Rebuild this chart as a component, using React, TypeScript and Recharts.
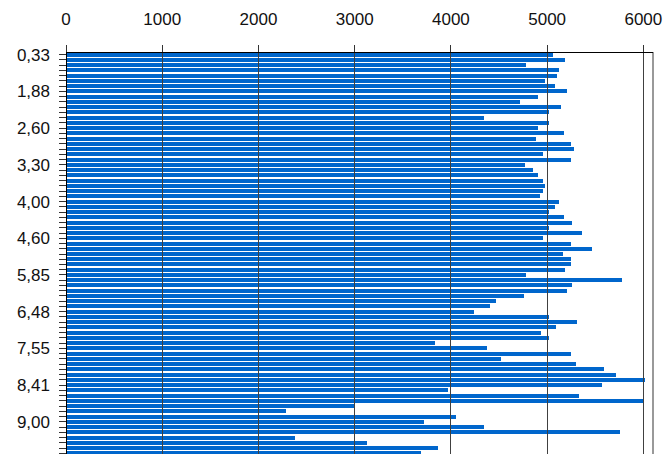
import React from "react";
import {
  BarChart,
  Bar,
  XAxis,
  YAxis,
  ReferenceLine,
} from "recharts";

// one bar per bin, top to bottom
const binValues = [
  5065, 5190, 4785, 5127, 5106, 4975, 5086, 5211, 4910, 4723, 5148, 5024, 4339,
  5024, 4900, 5180, 4880, 5244, 5275, 4960, 5244, 4775, 4848, 4900, 4960, 4975,
  4960, 4930, 5127, 5086, 5024, 5180, 5254, 5024, 5367, 4960, 5244, 5471, 5160,
  5244, 5244, 5190, 4785, 5783, 5254, 5211, 4755, 4470, 4411, 4244, 5024, 5315,
  5087, 4932, 5024, 3839, 4380, 5253, 4525, 5305, 5586, 5720, 6022, 5565, 3974,
  5336, 6002, 3006, 2290, 4058, 3725, 4339, 5752, 2383, 3133, 3870, 3684,
];

// labels printed on every 7th bin
const binLabels = [
  "0,33", "1,88", "2,60", "3,30", "4,00", "4,60", "5,85", "6,48", "7,55", "8,41", "9,00",
];
const labelEvery = 7;

const xTicks = [0, 1000, 2000, 3000, 4000, 5000, 6000];
const xMax = 6100;

const data = binValues.map((value, i) => ({ bin: i, value }));

const FONT = "'Liberation Sans', Arial, sans-serif";

export default function App() {
  return (
    <div style={{ position: "absolute", left: 0, top: 0 }}>
      <BarChart
        width={668}
        height={460}
        data={data}
        layout="vertical"
        margin={{ top: 22, right: 15, bottom: 4, left: 0 }}
        barCategoryGap="12%"
        style={{ shapeRendering: "crispEdges", fontFamily: FONT }}
      >
        <XAxis
          type="number"
          orientation="top"
          domain={[0, xMax]}
          ticks={xTicks}
          height={30}
          tickSize={7}
          tickMargin={20}
          axisLine={{ stroke: "#000" }}
          tickLine={{ stroke: "#333" }}
          tick={{ fill: "#111", fontSize: 17, fontFamily: FONT }}
        />
        <YAxis
          type="category"
          dataKey="bin"
          width={66}
          interval={0}
          tickSize={7}
          tickMargin={9}
          axisLine={{ stroke: "#000" }}
          tickLine={{ stroke: "#333" }}
          tick={{ fill: "#111", fontSize: 17, fontFamily: FONT }}
          tickFormatter={(_v: number, i: number) =>
            i % labelEvery === 0 ? binLabels[i / labelEvery] ?? "" : ""
          }
        />
        <Bar dataKey="value" fill="#0066cc" isAnimationActive={false} />
        {xTicks.slice(1).map((t) => (
          <ReferenceLine key={t} x={t} stroke="#404040" strokeWidth={1} />
        ))}
        <ReferenceLine x={xMax} stroke="#999" strokeWidth={2} />
      </BarChart>
    </div>
  );
}
